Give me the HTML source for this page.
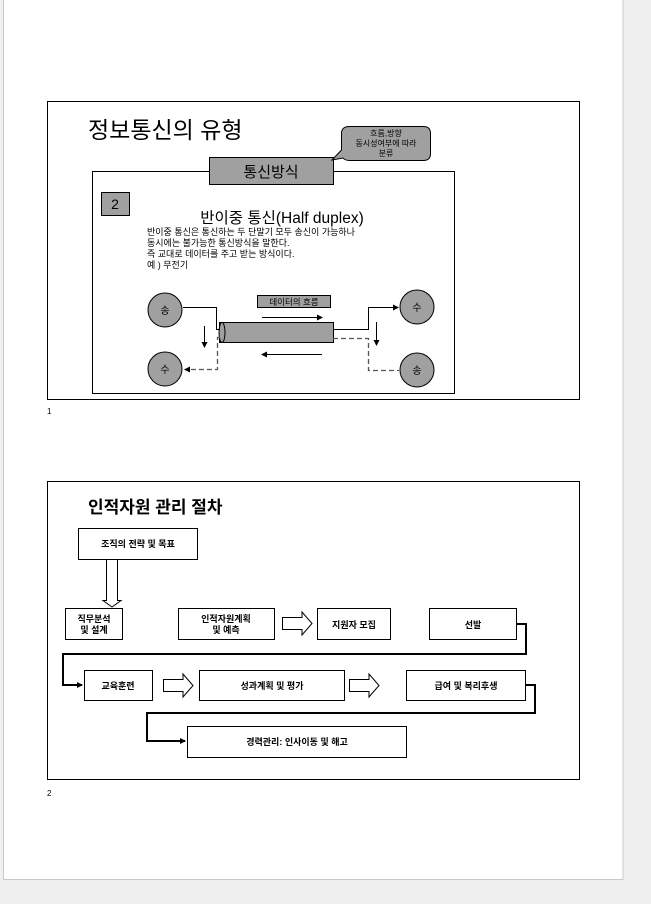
<!DOCTYPE html>
<html><head><meta charset="utf-8"><style>
body{margin:0;background:#f0f0f0;width:651px;height:904px;overflow:hidden}
svg{display:block}
text{font-family:"Liberation Sans","Noto Sans CJK KR",sans-serif;fill:#000}
</style></head><body>
<svg width="651" height="904" viewBox="0 0 651 904">
<defs>
<marker id="a" markerWidth="6" markerHeight="6" refX="5" refY="3" orient="auto" markerUnits="userSpaceOnUse"><path d="M0,0 L6,3 L0,6 z" fill="#000"/></marker>
</defs>
<rect x="3.5" y="-1" width="619.5" height="880.5" fill="#fff" stroke="#c8c8c8"/>
<!-- slide 1 -->
<rect x="47.5" y="101.5" width="532" height="298" fill="#fff" stroke="#000"/>
<text x="88" y="138" font-size="23">정보통신의 유형</text>
<rect x="92.5" y="171.5" width="362" height="222" fill="none" stroke="#000"/>
<rect x="209.5" y="157.5" width="124" height="27" fill="#a0a0a0" stroke="#000"/>
<text x="271" y="177" font-size="15" text-anchor="middle">통신방식</text>
<path d="M349.5,126.5 H423.5 Q430.5,126.5 430.5,133.5 V153.5 Q430.5,160.5 423.5,160.5 H349.5 Q345,160.5 343,158 L332,160 L341.5,150 V133.5 Q341.5,126.5 349.5,126.5 z" fill="#a0a0a0" stroke="#000"/>
<text x="386" y="136" font-size="8" text-anchor="middle">흐름,방향</text>
<text x="386" y="146" font-size="8" text-anchor="middle">동시성여부에 따라</text>
<text x="386" y="156" font-size="8" text-anchor="middle">분류</text>
<rect x="101.5" y="192.5" width="28" height="23" fill="#a0a0a0" stroke="#000"/>
<text x="115" y="209" font-size="14" text-anchor="middle">2</text>
<text x="282" y="223" font-size="15.5" text-anchor="middle">반이중 통신(Half duplex)</text>
<g font-size="9">
<text x="147" y="235">반이중 통신은 통신하는 두 단말기 모두 송신이 가능하나</text>
<text x="147" y="246">동시에는 불가능한 통신방식을 말한다.</text>
<text x="147" y="257">즉 교대로 데이터를 주고 받는 방식이다.</text>
<text x="147" y="268">예 ) 무전기</text>
</g>
<g fill="#a0a0a0" stroke="#000">
<circle cx="165" cy="310" r="17"/><circle cx="165" cy="369" r="17"/>
<circle cx="417" cy="307" r="17"/><circle cx="417" cy="370" r="17"/>
</g>
<g font-size="10" text-anchor="middle">
<text x="165" y="314">송</text><text x="165" y="373">수</text>
<text x="417" y="311">수</text><text x="417" y="374">송</text>
</g>
<rect x="257.5" y="295.5" width="73" height="12" fill="#a0a0a0" stroke="#000"/>
<text x="294" y="305" font-size="8.5" text-anchor="middle">데이터의 흐름</text>
<rect x="219.5" y="322.5" width="114" height="20" fill="#a0a0a0" stroke="#000"/>
<ellipse cx="222" cy="332.5" rx="3" ry="10" fill="#a0a0a0" stroke="#000"/>
<g fill="none" stroke="#000">
<path d="M183,307.5 H216.5 V329.5 H220"/>
<path d="M333,329.5 H368.5 V307.5 H398" marker-end="url(#a)"/>
<path d="M220,337.5 H217.5 V369.5 H185" stroke="#555" stroke-width="1.3" stroke-dasharray="5,3" marker-end="url(#a)"/>
<path d="M333,338.5 H368.5 V370.5 H399" stroke="#555" stroke-width="1.3" stroke-dasharray="5,3"/>
<path d="M204.5,326 V347" marker-end="url(#a)"/>
<path d="M376.5,322 V345" marker-end="url(#a)"/>
<path d="M262,317.5 H322" marker-end="url(#a)"/>
<path d="M322,354.5 H262" marker-end="url(#a)"/>
</g>
<text x="47" y="414" font-size="8">1</text>
<!-- slide 2 -->
<rect x="47.5" y="481.5" width="532" height="298" fill="#fff" stroke="#000"/>
<text x="88" y="513" font-size="17" font-family="Liberation Serif,'Noto Serif CJK SC',serif" font-weight="600">인적자원 관리 절차</text>
<g fill="#fff" stroke="#000">
<rect x="78.5" y="528.5" width="119" height="31"/>
<rect x="65.5" y="608.5" width="57" height="31"/>
<rect x="178.5" y="608.5" width="96" height="31"/>
<rect x="317.5" y="608.5" width="73" height="31"/>
<rect x="429.5" y="608.5" width="87" height="31"/>
<rect x="84.5" y="670.5" width="68" height="30"/>
<rect x="199.5" y="670.5" width="145" height="30"/>
<rect x="406.5" y="670.5" width="119" height="30"/>
<rect x="187.5" y="726.5" width="219" height="31"/>
<path d="M106.5,559.5 V600.5 H103 L112,607 L121,600.5 H117.5 V559.5 z"/>
<path d="M282.5,617.5 H302 V612 L312,623.5 L302,635 V629.5 H282.5 z"/>
<path d="M163.5,679.5 H183 V674 L193,685.5 L183,697 V691.5 H163.5 z"/>
<path d="M349.5,679.5 H369 V674 L379,685.5 L369,697 V691.5 H349.5 z"/>
</g>
<g font-size="9" font-weight="bold" text-anchor="middle">
<text x="138" y="547">조직의 전략 및 목표</text>
<text x="94" y="622">직무분석</text><text x="94" y="633">및 설계</text>
<text x="226" y="622">인적자원계획</text><text x="226" y="633">및 예측</text>
<text x="354" y="628">지원자 모집</text>
<text x="473" y="628">선발</text>
<text x="118" y="689">교육훈련</text>
<text x="272" y="689">성과계획 및 평가</text>
<text x="466" y="689">급여 및 복리후생</text>
<text x="297" y="745">경력관리: 인사이동 및 해고</text>
</g>
<g fill="none" stroke="#000" stroke-width="2">
<path d="M516,624 H526 V654 H63 V685 H82" marker-end="url(#a)"/>
<path d="M525,685 H535 V713 H147 V741 H185" marker-end="url(#a)"/>
</g>
<text x="47" y="796" font-size="8">2</text>
</svg>
</body></html>
